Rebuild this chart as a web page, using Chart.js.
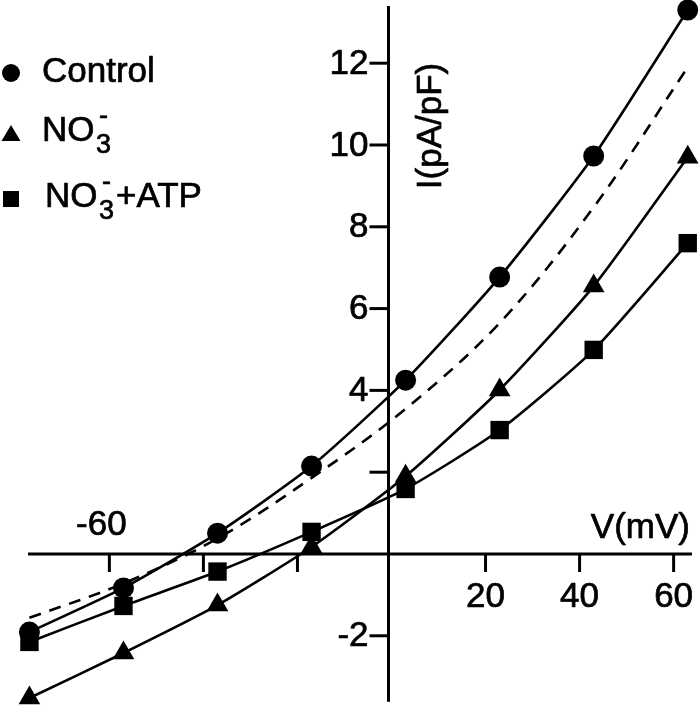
<!DOCTYPE html>
<html>
<head>
<meta charset="utf-8">
<script src="https://cdn.jsdelivr.net/npm/chart.js@4.4.1/dist/chart.umd.min.js"></script>
<style>
html,body{margin:0;padding:0;background:#fff;}
#wrap{position:relative;width:700px;height:709px;}
</style>
</head>
<body>
<div id="wrap"><canvas id="c" width="700" height="709"></canvas></div>
<script>
// ---- data ----
const voltages = [-77, -57, -37, -17, 3, 23, 43, 63];
const control  = [-1.91, -0.83, 0.51, 2.15, 4.25, 6.77, 9.73, 13.3];
const no3      = [-3.52, -2.42, -1.25, 0.17, 1.90, 4.01, 6.55, 9.70];
const no3atp   = [-2.15, -1.27, -0.43, 0.54, 1.59, 3.03, 4.99, 7.60];
const dashed   = [-1.56, -0.72, 0.38, 1.86, 3.55, 5.65, 8.48, 11.90];

const xTickValues = [-60, -40, -20, 20, 40, 60];
const xTickLabels = ['-60', '', '', '20', '40', '60'];
const yTickValues = [12, 10, 8, 6, 4, 2, -2];
const yTickLabels = ['12', '10', '8', '6', '4', '', '-2'];
const xAxisTitle = 'V(mV)';
const yAxisTitle = 'I(pA/pF)';

const FONT = '"Liberation Sans", Arial, Helvetica, sans-serif';

function pts(ys){ return voltages.map((v,i)=>({x:v, y:ys[i]})); }

function txt(ctx, s, x, y){
  ctx.fillText(s, x, y);
  ctx.strokeText(s, x, y);
}

const axesPlugin = {
  id: 'axesPlugin',
  beforeDatasetsDraw(chart){
    const ctx = chart.ctx, xs = chart.scales.x, ys = chart.scales.y;
    const x0 = xs.getPixelForValue(0) - 3, y0 = ys.getPixelForValue(0);
    ctx.save();
    ctx.strokeStyle = '#000'; ctx.fillStyle = '#000';
    ctx.lineWidth = 3; ctx.lineCap = 'butt';
    // x axis
    ctx.beginPath();
    ctx.moveTo(xs.getPixelForValue(-77.3), y0);
    ctx.lineTo(xs.getPixelForValue(63.9), y0);
    ctx.stroke();
    // y axis
    ctx.beginPath();
    ctx.moveTo(x0, ys.getPixelForValue(13.4));
    ctx.lineTo(x0, ys.getPixelForValue(-3.61));
    ctx.stroke();
    // ticks
    xTickValues.forEach((v)=>{
      const px = xs.getPixelForValue(v);
      ctx.beginPath(); ctx.moveTo(px, y0); ctx.lineTo(px, y0 + 18); ctx.stroke();
    });
    yTickValues.forEach((v)=>{
      const py = ys.getPixelForValue(v);
      ctx.beginPath(); ctx.moveTo(x0, py); ctx.lineTo(x0 - 19, py); ctx.stroke();
    });
    // text
    ctx.lineWidth = 0.7; ctx.lineJoin = 'round';
    ctx.font = '35px ' + FONT;
    xTickValues.forEach((v,i)=>{
      const px = xs.getPixelForValue(v);
      const lab = xTickLabels[i];
      if (lab) {
        ctx.textAlign = 'center'; ctx.textBaseline = 'middle';
        if (v < 0) txt(ctx, lab, px - 8, y0 - 29);
        else txt(ctx, lab, px, y0 + 43);
      }
    });
    yTickValues.forEach((v,i)=>{
      const py = ys.getPixelForValue(v);
      const lab = yTickLabels[i];
      if (lab) {
        ctx.textAlign = 'right'; ctx.textBaseline = 'middle';
        txt(ctx, lab, x0 - 20, py + 1);
      }
    });
    // axis titles
    ctx.textAlign = 'right'; ctx.textBaseline = 'middle';
    txt(ctx, xAxisTitle, 690, y0 - 26);
    ctx.save();
    ctx.translate(431, 126);
    ctx.rotate(-Math.PI/2);
    ctx.textAlign = 'center'; ctx.textBaseline = 'middle';
    txt(ctx, yAxisTitle, 0, 0);
    ctx.restore();
    // legend
    ctx.textAlign = 'left'; ctx.textBaseline = 'alphabetic';
    ctx.beginPath(); ctx.arc(11, 73, 9, 0, Math.PI*2); ctx.fill();
    ctx.font = '35px ' + FONT;
    txt(ctx, 'Control', 42, 82);
    ctx.beginPath(); ctx.moveTo(11, 125); ctx.lineTo(20.5, 141); ctx.lineTo(1.5, 141); ctx.closePath(); ctx.fill();
    txt(ctx, 'NO', 42, 141);
    ctx.font = '27px ' + FONT;
    txt(ctx, '3', 96, 153);
    txt(ctx, '-', 99, 124);
    ctx.fillRect(3, 191, 16, 16);
    ctx.font = '35px ' + FONT;
    txt(ctx, 'NO', 45, 207);
    ctx.font = '27px ' + FONT;
    txt(ctx, '3', 99, 219);
    txt(ctx, '-', 102, 190);
    ctx.font = '35px ' + FONT;
    txt(ctx, '+ATP', 116, 207);
    ctx.restore();
  }
};

const common = { borderColor:'#000', backgroundColor:'#000', borderWidth:2.6, tension:0.2, clip:false,
  pointBackgroundColor:'#000', pointBorderColor:'#000', pointBorderWidth:0 };

new Chart(document.getElementById('c'), {
  type: 'line',
  data: {
    datasets: [
      Object.assign({}, common, { label:'dashed', data: pts(dashed), pointRadius:0, borderDash:[12,9], tension:0.35 }),
      Object.assign({}, common, { label:'Control', data: pts(control), pointStyle:'circle', pointRadius:10.5 }),
      Object.assign({}, common, { label:'NO3-', data: pts(no3), pointStyle:'triangle', pointRadius:12.5 }),
      Object.assign({}, common, { label:'NO3-+ATP', data: pts(no3atp), pointStyle:'rect', pointRadius:13 })
    ]
  },
  options: {
    responsive: false,
    animation: false,
    layout: { padding: 0, autoPadding: false },
    plugins: { legend:{display:false}, tooltip:{enabled:false}, title:{display:false} },
    scales: {
      x: { type:'linear', min:-83.26, max:65.61, display:false },
      y: { type:'linear', min:-3.79, max:13.545, display:false }
    }
  },
  plugins: [axesPlugin]
});
</script>
</body>
</html>
